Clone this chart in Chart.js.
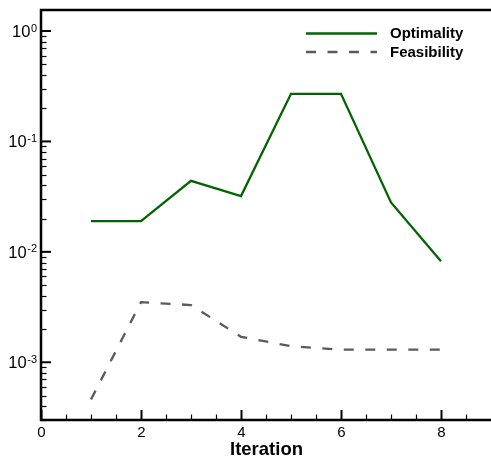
<!DOCTYPE html>
<html>
<head>
<meta charset="utf-8">
<script src="https://cdn.jsdelivr.net/npm/chart.js@4/dist/chart.umd.min.js"></script>
<style>
  html, body { margin: 0; padding: 0; background: #fff; }
  canvas { display: block; }
</style>
</head>
<body>
<canvas id="c" width="491" height="459"></canvas>
<script>
// ---- data ----
const iterations = [1, 2, 3, 4, 5, 6, 7, 8];
const optimality = [0.019, 0.019, 0.044, 0.032, 0.27, 0.27, 0.028, 0.0082];
const feasibility = [0.00046, 0.0035, 0.0033, 0.0017, 0.0014, 0.0013, 0.0013, 0.0013];
const seriesNames = ['Optimality', 'Feasibility'];
const xTickLabels = [0, 2, 4, 6, 8];
const xMinorTicks = [0.5, 1, 1.5, 2.5, 3, 3.5, 4.5, 5, 5.5, 6.5, 7, 7.5, 8.5];
const yMajorExponents = [0, -1, -2, -3];
const xTitle = 'Iteration';

const FONT = '"Liberation Sans", Arial, Helvetica, sans-serif';

const axesPlugin = {
  id: 'axesPlugin',
  afterDatasetsDraw(chart) {
    const ctx = chart.ctx;
    const a = chart.chartArea;
    const xs = chart.scales.x, ys = chart.scales.y;
    ctx.save();
    ctx.strokeStyle = '#000';
    ctx.fillStyle = '#000';
    // frame (left, bottom, top)
    ctx.lineWidth = 2.5;
    ctx.beginPath();
    ctx.moveTo(a.right + 2, a.top);
    ctx.lineTo(a.left, a.top);
    ctx.lineTo(a.left, a.bottom);
    ctx.lineTo(a.right + 2, a.bottom);
    ctx.stroke();

    // x ticks
    ctx.lineWidth = 2;
    xTickLabels.forEach(v => {
      const px = Math.round(xs.getPixelForValue(v)) + 0.5;
      ctx.beginPath(); ctx.moveTo(px, a.bottom); ctx.lineTo(px, a.bottom - 10); ctx.stroke();
    });
    ctx.lineWidth = 1.2;
    xMinorTicks.forEach(v => {
      const px = Math.round(xs.getPixelForValue(v)) + 0.5;
      ctx.beginPath(); ctx.moveTo(px, a.bottom); ctx.lineTo(px, a.bottom - 5.5); ctx.stroke();
    });
    // x labels
    ctx.font = '15px ' + FONT;
    ctx.textAlign = 'center';
    ctx.textBaseline = 'alphabetic';
    xTickLabels.forEach(v => {
      const px = xs.getPixelForValue(v);
      ctx.fillText(String(v), px + 0.5, 436.5);
    });
    // x title
    ctx.font = 'bold 18.5px ' + FONT;
    ctx.fillText(xTitle, (a.left + a.right) / 2 + 0.5, 454.5);

    // y ticks
    yMajorExponents.forEach(e => {
      const py = ys.getPixelForValue(Math.pow(10, e));
      ctx.lineWidth = 2;
      ctx.beginPath(); ctx.moveTo(a.left, py); ctx.lineTo(a.left + 10, py); ctx.stroke();
    });
    ctx.lineWidth = 1.2;
    for (let e = -4; e <= 0; e++) {
      for (let m = 2; m <= 9; m++) {
        const v = m * Math.pow(10, e);
        if (v <= ys.min || v >= ys.max) continue;
        const py = Math.round(ys.getPixelForValue(v)) + 0.5;
        ctx.beginPath(); ctx.moveTo(a.left, py); ctx.lineTo(a.left + 5.5, py); ctx.stroke();
      }
    }
    // y labels 10^e
    yMajorExponents.forEach(e => {
      const py = ys.getPixelForValue(Math.pow(10, e));
      const exp = String(e);
      ctx.font = '11px ' + FONT;
      const ew = ctx.measureText(exp).width;
      ctx.textAlign = 'right';
      ctx.fillText(exp, 37, py + 0.5);
      ctx.font = '16.5px ' + FONT;
      ctx.fillText('10', 37 - ew - 0.5, py + 6);
    });

    // legend
    const items = chart.data.datasets;
    const ly = [33.5, 52];
    const by = [37.5, 57];
    items.forEach((ds, i) => {
      ctx.save();
      ctx.strokeStyle = ds.borderColor;
      ctx.lineWidth = ds.borderWidth;
      ctx.setLineDash(ds.borderDash || []);
      ctx.beginPath(); ctx.moveTo(306, ly[i]); ctx.lineTo(377, ly[i]); ctx.stroke();
      ctx.restore();
      ctx.font = 'bold 15px ' + FONT;
      ctx.textAlign = 'left';
      ctx.fillStyle = '#000';
      ctx.fillText(ds.label, 390, by[i]);
    });
    ctx.restore();
  }
};

new Chart(document.getElementById('c'), {
  type: 'line',
  data: {
    datasets: [
      {
        label: seriesNames[0],
        data: iterations.map((x, i) => ({ x, y: optimality[i] })),
        borderColor: '#006400',
        borderWidth: 2.3,
        pointRadius: 0,
        tension: 0,
        fill: false
      },
      {
        label: seriesNames[1],
        data: iterations.map((x, i) => ({ x, y: feasibility[i] })),
        borderColor: '#5a5a5a',
        borderWidth: 2.3,
        borderDash: [10, 11.5],
        pointRadius: 0,
        tension: 0,
        fill: false
      }
    ]
  },
  options: {
    responsive: false,
    animation: false,
    devicePixelRatio: 1,
    layout: { padding: { left: 41, top: 10, right: 0, bottom: 39 } },
    plugins: { legend: { display: false }, tooltip: { enabled: false } },
    scales: {
      x: { type: 'linear', min: 0, max: 9, display: false },
      y: { type: 'logarithmic', min: 0.0003, max: 1.55, display: false }
    }
  },
  plugins: [axesPlugin]
});
</script>
</body>
</html>
